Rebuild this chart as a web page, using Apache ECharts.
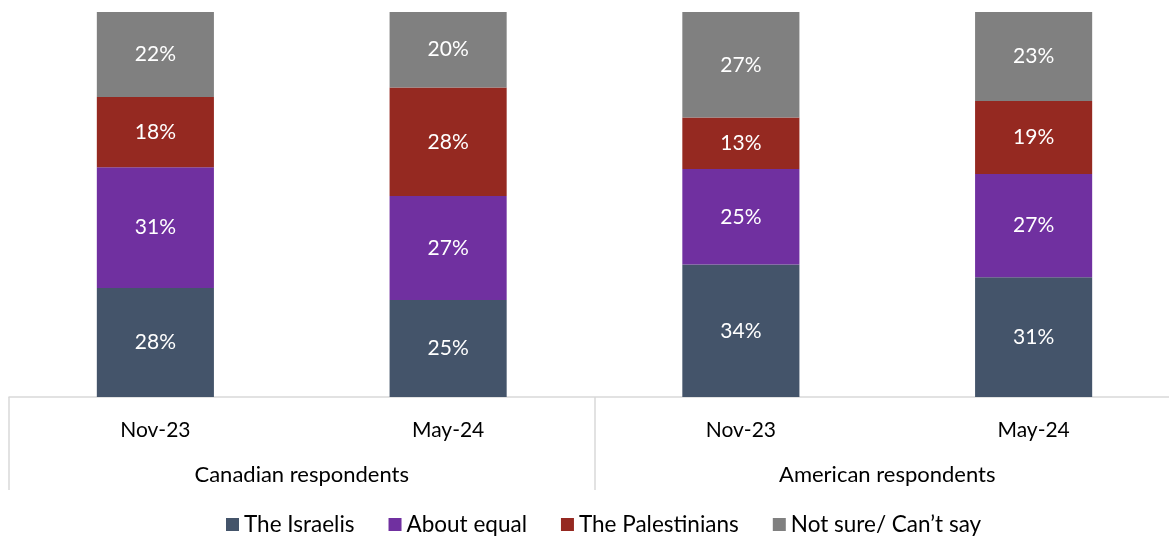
<!DOCTYPE html>
<html>
<head>
<meta charset="utf-8">
<script src="https://cdn.jsdelivr.net/npm/echarts@6/dist/echarts.min.js"></script>
<style>
  html, body { margin: 0; padding: 0; background: #fff; }
  #chart { width: 1169px; height: 538px; }
</style>
</head>
<body>
<div id="chart"></div>
<script>
// periods and respondent groups
var periods = ['Nov-23', 'May-24', 'Nov-23', 'May-24'];
var groups = ['Canadian respondents', 'American respondents'];

// shares (%)
var israelis = [28.3, 25.2, 34.4, 31.1];
var aboutEqual = [31.4, 27.0, 24.8, 26.8];
var palestinians = [18.2, 28.2, 13.4, 19.0];
var notSure = [22.1, 19.6, 27.4, 23.1];

var FONT = 'Lato';
var FS = 21;

function chartInit(targetId) {
    var myChart = echarts.init(document.getElementById(targetId));
    myChart.setOption(optionConfig());
}

function barSeries(name, data, color) {
    return {
        name: name,
        type: 'bar',
        stack: 'all',
        xAxisIndex: 0,
        barWidth: '40%',
        data: data,
        itemStyle: { color: color },
        label: {
            show: true,
            position: 'inside',
            color: '#fff',
            fontFamily: FONT,
            fontSize: FS,
            formatter: function (p) {
                return Math.round(p.value) + '%';
            }
        }
    };
}

function optionConfig() {
    return {
        animation: false,
        textStyle: { fontFamily: FONT },
        // the plot runs a little past the right edge of the canvas
        grid: { left: 9, width: 1171, top: 12, bottom: 141, outerBoundsMode: 'none', containLabel: false },
        legend: {
            bottom: -3,
            left: 221,
            icon: 'rect',
            itemWidth: 13,
            itemHeight: 13,
            itemGap: 34,
            textStyle: { fontFamily: FONT, fontSize: 22.5, color: '#000' },
            data: ['The Israelis', 'About equal', 'The Palestinians', 'Not sure/ Can\u2019t say']
        },
        xAxis: [{
            type: 'category',
            data: periods,
            position: 'bottom',
            axisLine: { show: true, lineStyle: { color: '#d9d9d9', width: 1.5 } },
            axisTick: { show: false },
            axisLabel: { margin: 23, color: '#000', fontFamily: FONT, fontSize: FS }
        }, {
            type: 'category',
            data: groups,
            position: 'bottom',
            axisLine: { show: false },
            axisTick: {
                show: true,
                length: 93,
                interval: 0,
                lineStyle: { color: '#d9d9d9', width: 1.5 }
            },
            axisLabel: { margin: 67, color: '#000', fontFamily: FONT, fontSize: 22 }
        }],
        yAxis: {
            type: 'value',
            min: 0,
            max: 100,
            show: false
        },
        series: [
            barSeries('The Israelis', israelis, '#44546a'),
            barSeries('About equal', aboutEqual, '#7030a0'),
            barSeries('The Palestinians', palestinians, '#952921'),
            barSeries('Not sure/ Can\u2019t say', notSure, '#808080')
        ]
    };
}

chartInit('chart');
</script>
</body>
</html>
